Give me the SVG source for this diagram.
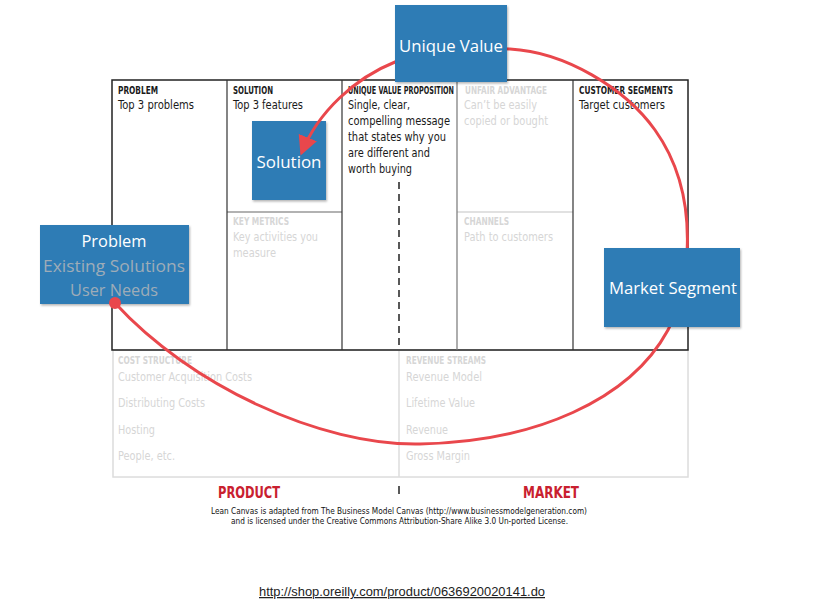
<svg xmlns="http://www.w3.org/2000/svg" width="836" height="613" viewBox="0 0 836 613">
<defs>
<style>
.hd{font-family:"Liberation Sans Narrow","DejaVu Sans Condensed","Liberation Sans",sans-serif;font-weight:bold;font-size:10px;fill:#1a1a1a}
.hdl{font-family:"Liberation Sans Narrow","DejaVu Sans Condensed","Liberation Sans",sans-serif;font-weight:bold;font-size:10px;fill:#d6d6d6}
.bd{font-family:"Liberation Sans Narrow","DejaVu Sans Condensed","Liberation Sans",sans-serif;font-size:13px;fill:#1a1a1a}
.bdl{font-family:"Liberation Sans Narrow","DejaVu Sans Condensed","Liberation Sans",sans-serif;font-size:13px;fill:#d6d6d6}
.pm{font-family:"Liberation Sans Narrow","DejaVu Sans Condensed","Liberation Sans",sans-serif;font-weight:bold;font-size:15px;fill:#c9202f}
.lic{font-family:"Liberation Sans Narrow","DejaVu Sans Condensed","Liberation Sans",sans-serif;font-size:9px;fill:#111}
.box{fill:#2f7bb5}
.bt{font-family:"Open Sans","Noto Sans",sans-serif;font-size:16.5px;fill:#ffffff;text-anchor:middle}
.bg{font-family:"Open Sans","Noto Sans",sans-serif;font-size:16.5px;fill:#9eacb8;text-anchor:middle}
.red{fill:none;stroke:#e9474c;stroke-width:3;stroke-linecap:round}
</style>
<marker id="ah" viewBox="0 0 10 10" refX="8" refY="5" markerWidth="6.5" markerHeight="6.5" orient="auto" markerUnits="strokeWidth">
<path d="M0,0 L10,5 L0,10 z" fill="#e9474c"/>
</marker>
<filter id="sh" x="-10%" y="-10%" width="125%" height="125%">
<feDropShadow dx="1" dy="1.5" stdDeviation="1.2" flood-color="#000" flood-opacity="0.3"/>
</filter>
</defs>
<rect width="836" height="613" fill="#ffffff"/>

<g id="canvas">
<rect x="113" y="350" width="575" height="127" fill="none" stroke="#dcdcdc" stroke-width="1.5"/>
<line x1="399" y1="350" x2="399" y2="477" stroke="#dcdcdc" stroke-width="1.5"/>
<line x1="227" y1="212" x2="342" y2="212" stroke="#666" stroke-width="1.2"/>
<line x1="457" y1="212" x2="573" y2="212" stroke="#c4c4c4" stroke-width="1.2"/>
<rect x="112" y="80" width="576" height="270" fill="none" stroke="#222" stroke-width="1.5"/>
<line x1="227" y1="80" x2="227" y2="350" stroke="#333" stroke-width="1.2"/>
<line x1="342" y1="80" x2="342" y2="350" stroke="#333" stroke-width="1.2"/>
<line x1="457" y1="80" x2="457" y2="350" stroke="#777" stroke-width="1.2"/>
<line x1="573" y1="80" x2="573" y2="350" stroke="#333" stroke-width="1.2"/>
<line x1="399" y1="182" x2="399" y2="350" stroke="#222" stroke-width="1.5" stroke-dasharray="7,5"/>
<line x1="399" y1="486" x2="399" y2="494" stroke="#222" stroke-width="1.5"/>

<text class="hd" x="118" y="94" textLength="40" lengthAdjust="spacingAndGlyphs">PROBLEM</text>
<text class="bd" x="118" y="109" textLength="76" lengthAdjust="spacingAndGlyphs">Top 3 problems</text>
<text class="hd" x="233" y="94" textLength="40" lengthAdjust="spacingAndGlyphs">SOLUTION</text>
<text class="bd" x="233" y="109" textLength="70" lengthAdjust="spacingAndGlyphs">Top 3 features</text>
<text class="hd" x="348" y="94" textLength="106" lengthAdjust="spacingAndGlyphs">UNIQUE VALUE PROPOSITION</text>
<text class="bd" x="348" y="109" textLength="62" lengthAdjust="spacingAndGlyphs">Single, clear,</text>
<text class="bd" x="348" y="125" textLength="102" lengthAdjust="spacingAndGlyphs">compelling message</text>
<text class="bd" x="348" y="141" textLength="98" lengthAdjust="spacingAndGlyphs">that states why you</text>
<text class="bd" x="348" y="157" textLength="82" lengthAdjust="spacingAndGlyphs">are different and</text>
<text class="bd" x="348" y="173" textLength="64" lengthAdjust="spacingAndGlyphs">worth buying</text>
<text class="hdl" x="465" y="94" textLength="82" lengthAdjust="spacingAndGlyphs">UNFAIR ADVANTAGE</text>
<text class="bdl" x="464" y="109" textLength="73" lengthAdjust="spacingAndGlyphs">Can’t be easily</text>
<text class="bdl" x="464" y="125" textLength="84" lengthAdjust="spacingAndGlyphs">copied or bought</text>
<text class="hd" x="579" y="94" textLength="94" lengthAdjust="spacingAndGlyphs">CUSTOMER SEGMENTS</text>
<text class="bd" x="579" y="109" textLength="86" lengthAdjust="spacingAndGlyphs">Target customers</text>
<text class="hdl" x="233" y="225" textLength="56" lengthAdjust="spacingAndGlyphs">KEY METRICS</text>
<text class="bdl" x="233" y="241" textLength="85" lengthAdjust="spacingAndGlyphs">Key activities you</text>
<text class="bdl" x="233" y="257" textLength="43" lengthAdjust="spacingAndGlyphs">measure</text>
<text class="hdl" x="464" y="225" textLength="45" lengthAdjust="spacingAndGlyphs">CHANNELS</text>
<text class="bdl" x="464" y="241" textLength="89" lengthAdjust="spacingAndGlyphs">Path to customers</text>
<text class="hdl" x="118" y="364" textLength="74" lengthAdjust="spacingAndGlyphs">COST STRUCTURE</text>
<text class="bdl" x="118" y="381" textLength="134" lengthAdjust="spacingAndGlyphs">Customer Acquisition Costs</text>
<text class="bdl" x="118" y="407" textLength="87" lengthAdjust="spacingAndGlyphs">Distributing Costs</text>
<text class="bdl" x="118" y="434" textLength="37" lengthAdjust="spacingAndGlyphs">Hosting</text>
<text class="bdl" x="118" y="460" textLength="57" lengthAdjust="spacingAndGlyphs">People, etc.</text>
<text class="hdl" x="406" y="364" textLength="80" lengthAdjust="spacingAndGlyphs">REVENUE STREAMS</text>
<text class="bdl" x="406" y="381" textLength="76" lengthAdjust="spacingAndGlyphs">Revenue Model</text>
<text class="bdl" x="406" y="407" textLength="69" lengthAdjust="spacingAndGlyphs">Lifetime Value</text>
<text class="bdl" x="406" y="434" textLength="42" lengthAdjust="spacingAndGlyphs">Revenue</text>
<text class="bdl" x="406" y="460" textLength="64" lengthAdjust="spacingAndGlyphs">Gross Margin</text>

<text class="pm" x="218" y="498" textLength="62" lengthAdjust="spacingAndGlyphs">PRODUCT</text>
<text class="pm" x="523" y="498" textLength="56" lengthAdjust="spacingAndGlyphs">MARKET</text>
<text class="lic" x="211" y="514" textLength="376" lengthAdjust="spacingAndGlyphs">Lean Canvas is adapted from The Business Model Canvas (http://www.businessmodelgeneration.com)</text>
<text class="lic" x="231" y="524" textLength="337" lengthAdjust="spacingAndGlyphs">and is licensed under the Creative Commons Attribution-Share Alike 3.0 Un-ported License.</text>
</g>

<g id="node-solution">
<rect class="box" x="252" y="121" width="74" height="79" filter="url(#sh)"/>
<text class="bt" x="289" y="168" textLength="65" lengthAdjust="spacingAndGlyphs">Solution</text>
</g>
<g id="node-problem">
<rect class="box" x="40" y="225" width="149" height="79" filter="url(#sh)"/>
<text class="bt" x="114" y="247" textLength="65" lengthAdjust="spacingAndGlyphs">Problem</text>
<text class="bg" x="114" y="272" textLength="142" lengthAdjust="spacingAndGlyphs">Existing Solutions</text>
<text class="bg" x="114" y="296" textLength="88" lengthAdjust="spacingAndGlyphs">User Needs</text>
</g>

<g id="connectors">
<path class="red" marker-end="url(#ah)" d="M115,303 C190,385 320,446 420,444 C535,442 630,400 668,330 C687,295 705,200 655,130 C625,88 565,52 510,49 C470,47 425,50 395,62 C355,78 318,112 302,152"/>
<circle cx="115" cy="303" r="6" fill="#e9474c"/>
</g>

<g id="node-unique-value">
<rect class="box" x="395" y="5" width="112" height="77" filter="url(#sh)"/>
<text class="bt" x="451" y="52" textLength="104" lengthAdjust="spacingAndGlyphs">Unique Value</text>
</g>
<g id="node-market-segment">
<rect class="box" x="604" y="248" width="136" height="79" filter="url(#sh)"/>
<text class="bt" x="673" y="294" textLength="128" lengthAdjust="spacingAndGlyphs">Market Segment</text>
</g>

<g id="url">
<text x="259" y="596" font-family="Liberation Sans, Arial, sans-serif" font-size="12.5" fill="#222" text-decoration="underline" textLength="286" lengthAdjust="spacingAndGlyphs">http://shop.oreilly.com/product/0636920020141.do</text>
</g>
</svg>
